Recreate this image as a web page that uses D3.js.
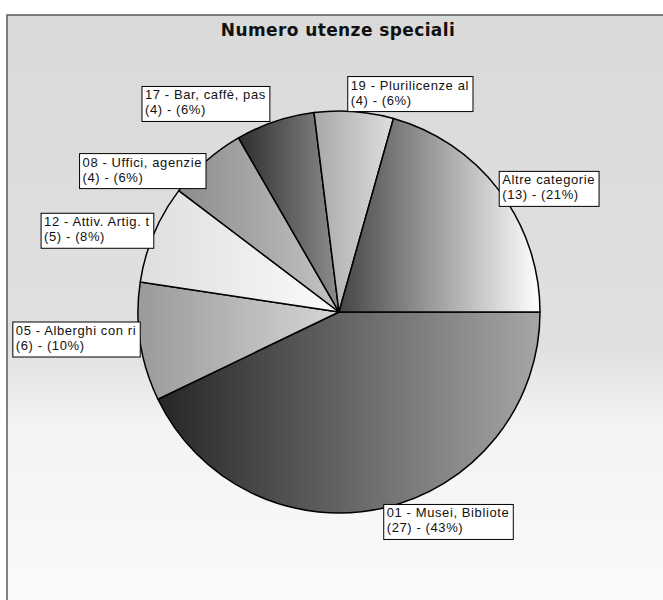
<html>
<head>
	<meta charset="utf-8">
	<title>Numero utenze speciali</title>
	<script src="https://cdn.jsdelivr.net/npm/d3@7/dist/d3.min.js" charset="utf-8"></script>
    <style type="text/css">
        body { margin: 0; background: #ffffff; }
    </style>
</head>
<body>
	<div id="chart"></div>
	<script>
		// data
		var categories = ["01 - Musei, Bibliote", "05 - Alberghi con ri", "12 - Attiv. Artig. t",
		                  "08 - Uffici, agenzie", "17 - Bar, caffè, pas", "19 - Plurilicenze al", "Altre categorie"];
		var values = [27, 6, 5, 4, 4, 4, 13];

		// slice shading (left colour, right colour)
		var shadeLeft  = ["#262626", "#9a9a9a", "#dedede", "#8c8c8c", "#2e2e2e", "#a8a8a8", "#454545"];
		var shadeRight = ["#a6a6a6", "#d6d6d6", "#fbfbfb", "#c4c4c4", "#8e8e8e", "#dedede", "#ffffff"];
		// where the label box sits on its anchor point (fraction of box width / height)
		var labelAnchor = [[0, 0.1], [1, 0.57], [1, 0.59], [1, 0.22], [1.04, 1], [0.05, 1], [0, 0.55]];

		var width = 663, height = 600;
		var cx = 339, cy = 312, radius = 201;
		var total = d3.sum(values);

		var svg = d3.select('#chart').append('svg')
			.attr('width', width)
			.attr('height', height);

		var defs = svg.append('defs');

		// scanned-paper background
		var bg = defs.append('linearGradient').attr('id', 'bg')
			.attr('x1', 0).attr('y1', 0).attr('x2', 0).attr('y2', 1);
		bg.append('stop').attr('offset', '0%').attr('stop-color', '#dadada');
		bg.append('stop').attr('offset', '55%').attr('stop-color', '#e0e0e0');
		bg.append('stop').attr('offset', '68%').attr('stop-color', '#f3f3f3');
		bg.append('stop').attr('offset', '100%').attr('stop-color', '#fbfbfb');

		svg.append('rect')
			.attr('x', 7).attr('y', 15)
			.attr('width', width).attr('height', height)
			.style('fill', 'url(#bg)')
			.style('stroke', '#5a5a5a')
			.style('stroke-width', 1.5);

		//Title
		svg.append('text')
			.attr('x', 338).attr('y', 36)
			.attr('text-anchor', 'middle')
			.style('font-family', 'DejaVu Sans, sans-serif')
			.style('font-weight', 'bold')
			.style('font-size', '17px')
			.style('letter-spacing', '0.4px')
			.style('fill', '#111')
			.text('Numero utenze speciali');

		values.forEach(function(v, i) {
			var g = defs.append('linearGradient').attr('id', 'shade' + i)
				.attr('x1', 0).attr('y1', 0).attr('x2', 1).attr('y2', 0);
			g.append('stop').attr('offset', '0%').attr('stop-color', shadeLeft[i]);
			g.append('stop').attr('offset', '100%').attr('stop-color', shadeRight[i]);
		});

		var pie = d3.pie()
			.sort(null)
			.startAngle(Math.PI / 2)
			.endAngle(Math.PI / 2 + 2 * Math.PI);

		var arc = d3.arc().innerRadius(0).outerRadius(radius);
		var arcs = pie(values);

		var plot = svg.append('g')
			.attr('transform', 'translate(' + cx + ',' + cy + ')');

		plot.selectAll('path')
			.data(arcs)
			.enter().append('path')
				.attr('d', arc)
				.style('fill', function(d, i) { return 'url(#shade' + i + ')'; })
				.style('stroke', '#000')
				.style('stroke-width', 1.5)
				.style('stroke-linejoin', 'round');

		//Labels
		var labels = plot.selectAll('g.label')
			.data(arcs)
			.enter().append('g')
				.attr('class', 'label');

		labels.each(function(d, i) {
			var g = d3.select(this);
			var mid = (d.startAngle + d.endAngle) / 2;
			var px = radius * Math.sin(mid);
			var py = -radius * Math.cos(mid);
			var pct = Math.round(d.value / total * 100);

			var rect = g.append('rect');
			var txt = g.append('text')
				.style('font-family', 'Liberation Sans, Arial, sans-serif')
				.style('font-size', '13px')
				.style('letter-spacing', '0.6px')
				.style('fill', '#111');
			txt.append('tspan').attr('x', 3).attr('y', 13).text(categories[i]);
			txt.append('tspan').attr('x', 3).attr('y', 28).text('(' + d.value + ') - (' + pct + '%)');

			var w = txt.node().getBBox().width + 7;
			var h = 35;
			rect.attr('width', w).attr('height', h)
				.style('fill', '#fff')
				.style('stroke', '#000')
				.style('stroke-width', 1);

			var bx = px - labelAnchor[i][0] * w;
			var by = py - labelAnchor[i][1] * h;
			g.attr('transform', 'translate(' + bx + ',' + by + ')');
		});
	</script>
</body>
</html>
